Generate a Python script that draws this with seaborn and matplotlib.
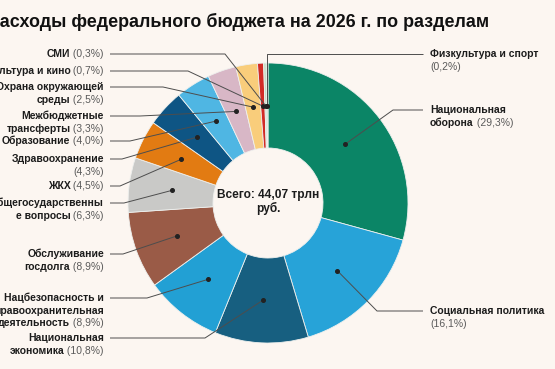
import numpy as np
import matplotlib
matplotlib.use("Agg")
import matplotlib.pyplot as plt
import seaborn as sns
from matplotlib.offsetbox import TextArea, HPacker, AnnotationBbox

# ---------------- data ----------------
categories = [
    "Национальная оборона", "Социальная политика", "Национальная экономика",
    "Нацбезопасность и правоохранительная деятельность", "Обслуживание госдолга",
    "Общегосударственные вопросы", "ЖКХ", "Здравоохранение", "Образование",
    "Межбюджетные трансферты", "Охрана окружающей среды", "Культура и кино",
    "СМИ", "Физкультура и спорт",
]
shares = [29.3, 16.1, 10.8, 8.9, 8.9, 6.3, 4.5, 4.3, 4.0, 3.3, 2.5, 0.7, 0.3, 0.2]
colors = [
    "#0b8566", "#27a3d8", "#175f80", "#22a0d4", "#9a5b47", "#c9c9c7", "#e27b12",
    "#0e5584", "#4fb6e3", "#d8b7c6", "#f9cd7b", "#d22b26", "#c7dfc6", "#a9d9b8",
]
# label text as shown (line breaks; trailing "\n" -> percentage on its own line)
label_lines = [
    "Национальная\nоборона", "Социальная политика\n", "Национальная\nэкономика",
    "Нацбезопасность и\nправоохранительная\nдеятельность", "Обслуживание\nгосдолга",
    "Общегосударственны\nе вопросы", "ЖКХ", "Здравоохранение\n", "Образование",
    "Межбюджетные\nтрансферты", "Охрана окружающей\nсреды", "Культура и кино",
    "СМИ", "Физкультура и спорт\n",
]
total_text = "Всего: 44,07 трлн\nруб."
title = "Расходы федерального бюджета на 2026 г. по разделам"

# ---------------- layout (pixels, y from top) ----------------
label_side = ["R", "R", "L", "L", "L", "L", "L", "L", "L", "L", "L", "L", "L", "R"]
label_y = [110, 311, 338, 298, 254, 203, 186, 159, 141, 116, 87, 71, 54, 54]
knee_x = [393, 377, 205, 147, 123, 124, 120, 122, 130, 140, 163, 188, 225, None]

W, H = 555, 369
BG = "#fcf6f1"
sns.set_theme(style="white", rc={"figure.facecolor": BG, "axes.facecolor": BG})
plt.rcParams["font.family"] = ["Liberation Sans", "DejaVu Sans"]

fig = plt.figure(figsize=(5.55, 3.69), dpi=100)
ax = fig.add_axes([0, 0, 1, 1])

CX, CY, R, R_IN = 268, 203, 140, 55
wedges, _ = ax.pie(
    shares, colors=colors, startangle=90, counterclock=False,
    center=(CX, H - CY), radius=R,
    wedgeprops=dict(width=R - R_IN, edgecolor="#eef0ee", linewidth=0.6),
)
ax.set_xlim(0, W)
ax.set_ylim(0, H)
ax.set_aspect("equal")
ax.axis("off")

FS = 7.5
BOLD_C = "#1c1c1c"
NORM_C = "#5a5a5a"
LINE_C = "#4d4d4d"
PITCH = 12.6


def add_line(parts, x, y, side):
    areas = [TextArea(t, textprops=dict(fontsize=FS, fontweight="bold" if b else "normal",
                                        color=BOLD_C if b else NORM_C)) for t, b in parts]
    pack = HPacker(children=areas, pad=0, sep=0, align="baseline")
    ab = AnnotationBbox(pack, (x, y), xycoords="data",
                        box_alignment=(1 if side == "L" else 0, 0.5),
                        frameon=False, pad=0, annotation_clip=False)
    ax.add_artist(ab)


for i, w in enumerate(wedges):
    th = np.deg2rad((w.theta1 + w.theta2) / 2)
    dx, dy = CX + 97 * np.cos(th), (H - CY) + 97 * np.sin(th)
    yl = H - label_y[i]
    side = label_side[i]
    kx = dx if knee_x[i] is None else knee_x[i]
    if side == "L":
        xs, ys = [110, kx, dx], [yl, yl, dy]
        tx = 104
    else:
        xs, ys = [dx, kx, 423], [dy, yl, yl]
        tx = 430
    ax.plot(xs, ys, color=LINE_C, lw=0.7, solid_capstyle="butt")
    ax.plot([dx], [dy], "o", ms=2.6, color="#222222")

    pct = "(" + f"{shares[i]:.1f}".replace(".", ",") + "%)"
    lines = label_lines[i].split("\n")
    if lines[-1] == "":
        rows = [[(l, True)] for l in lines[:-1]] + [[(pct, False)]]
    else:
        rows = [[(l, True)] for l in lines[:-1]] + [[(lines[-1], True), (" " + pct, False)]]
    for j, parts in enumerate(rows):
        add_line(parts, tx, yl - j * PITCH, side)

ax.text(CX, H - 202, total_text, ha="center", va="center", fontsize=8.6,
        fontweight="bold", color="#1c1c1c", linespacing=1.15)
ax.text(489, H - 27, title, ha="right", va="baseline", fontsize=12.9,
        fontweight="bold", color="#111111")

fig.savefig("out.png", dpi=100, facecolor=BG)
